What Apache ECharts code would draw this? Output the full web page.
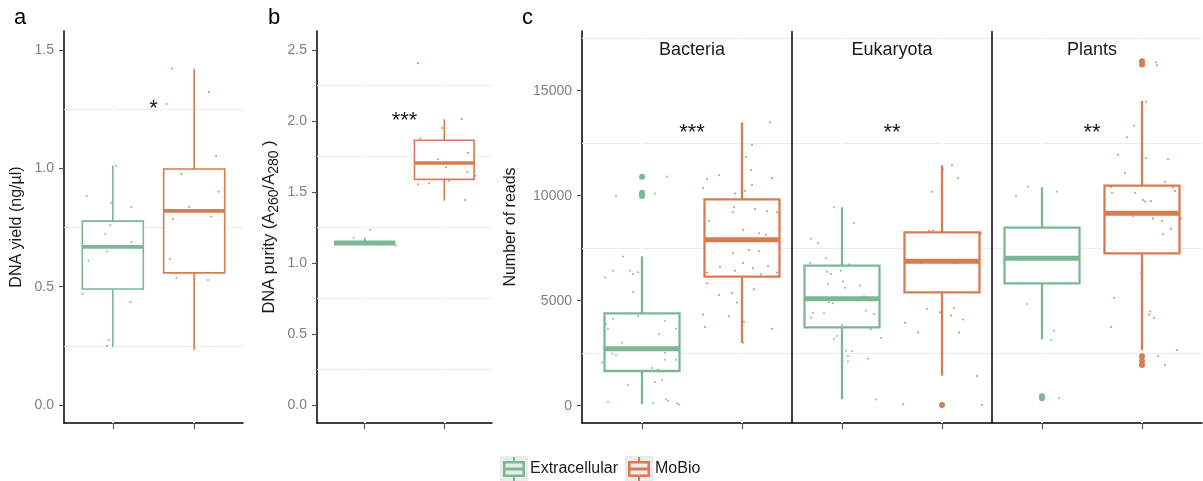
<!DOCTYPE html>
<html>
<head>
<meta charset="utf-8">
<script src="https://cdn.jsdelivr.net/npm/echarts@6/dist/echarts.min.js"></script>
<style>
  html, body { margin: 0; padding: 0; background: #fff; }
  #chart { width: 1203px; height: 481px; }
</style>
</head>
<body>
<div id="chart"></div>
<script>
// groups + colours
const groups = ['Extracellular', 'MoBio'];
const groupColors = ['#7bb795', '#d77b51'];

// a: DNA yield, box stats = [lowWhisker, q1, median, q3, highWhisker]
const yieldTicks = [0, 0.5, 1, 1.5];
const yieldStats = [
  [0.245, 0.49, 0.668, 0.777, 1.012],
  [0.232, 0.558, 0.82, 0.997, 1.42]
];
// jitter points: [x offset, value]
const yieldPtsExtra = [[-0.32, 0.883], [-0.02, 0.854], [0.23, 0.836], [0.04, 1.01], [-0.03, 0.76], [-0.09, 0.722],
  [0.23, 0.689], [-0.07, 0.648], [-0.3, 0.61], [-0.37, 0.47], [0.22, 0.435], [-0.05, 0.275], [-0.07, 0.25]];
const yieldPtsMoBio = [[-0.27, 1.422], [-0.34, 1.272], [0.18, 1.322], [0.27, 1.052], [-0.16, 0.976], [0.3, 0.901],
  [-0.06, 0.837], [-0.26, 0.786], [0.21, 0.796], [-0.3, 0.617], [-0.22, 0.537], [0.17, 0.528]];
const yieldSignif = ['*'];
const yieldSignifAt = [1.25];

// b: DNA purity
const purityTicks = [0, 0.5, 1, 1.5, 2, 2.5];
const purityStats = [
  [1.122, 1.128, 1.141, 1.153, 1.175],
  [1.439, 1.589, 1.704, 1.864, 2.012]
];
const purityPtsExtra = [[0.07, 1.232], [-0.14, 1.178], [0, 1.171], [-0.28, 1.143], [-0.11, 1.138], [0.1, 1.135],
  [0.22, 1.131], [0.31, 1.14], [0.39, 1.124], [-0.36, 1.134]];
const purityPtsMoBio = [[-0.33, 2.406], [0.22, 2.014], [-0.03, 1.951], [-0.3, 1.876], [0.3, 1.777], [-0.08, 1.73],
  [0.02, 1.674], [0.29, 1.641], [0.39, 1.615], [0.01, 1.589], [0.06, 1.58], [-0.19, 1.563], [-0.33, 1.554], [0.26, 1.444]];
const puritySignif = ['***'];
const puritySignifAt = [2.0];

// c: number of reads per taxon
const taxa = ['Bacteria', 'Eukaryota', 'Plants'];
const readTicks = [0, 5000, 10000, 15000];
const readStatsExtra = [
  [70, 1652, 2714, 4400, 7114],
  [305, 3733, 5095, 6667, 9448],
  [3162, 5829, 7019, 8476, 10400]
];
const readStatsMoBio = [
  [3000, 6143, 7905, 9829, 13495],
  [1429, 5400, 6876, 8257, 11448],
  [2652, 7257, 9162, 10476, 14510]
];
// outliers: [taxon index, value]
const readOutExtra = [[0, 10900], [0, 10140], [0, 9990], [2, 450], [2, 350]];
const readOutMoBio = [[1, 35], [2, 16400], [2, 16250], [2, 2370], [2, 2140], [2, 1940]];
const bacPtsExtra = [[-0.26, 9990], [0.13, 10110], [0.25, 10910], [-0.19, 7110], [-0.37, 6100], [-0.29, 6430], [-0.12, 6430],
  [-0.09, 6270], [-0.04, 6350], [-0.09, 5410], [-0.29, 4140], [-0.36, 3890], [-0.34, 3670], [-0.04, 4270], [0.23, 4050],
  [0.17, 3400], [0.34, 3670], [-0.2, 3000], [0.34, 2810], [-0.3, 2480], [-0.26, 2400], [0.23, 2520], [0.23, 2190],
  [0.34, 2190], [-0.4, 2060], [0.1, 1800], [0.16, 1720], [-0.14, 990], [0.13, 1130], [0.2, 1210], [-0.34, 190],
  [0.11, 130], [0.24, 300], [0.26, 220], [0.35, 110], [0.37, 50]];
const bacPtsMoBio = [[0.28, 13490], [0.1, 12410], [0.04, 11860], [-0.23, 10970], [-0.35, 10800], [0.3, 10840], [0.09, 11220],
  [0.1, 10510], [-0.39, 10370], [-0.07, 10110], [0.03, 10240], [0.11, 9830], [0.24, 9830], [-0.08, 9450], [0.13, 9380],
  [0.25, 9260], [0.35, 9210], [-0.09, 9210], [-0.33, 8810], [0.01, 8380], [0.17, 8210], [0.24, 8140], [0.07, 7410],
  [0.17, 7350], [-0.09, 7260], [0.01, 6800], [-0.22, 6620], [0.11, 6540], [0.26, 6640], [-0.07, 6430], [-0.35, 6340],
  [0.35, 6340], [0.19, 6260], [-0.35, 5830], [0.12, 5540], [-0.23, 5270], [-0.1, 5350], [-0.05, 4910], [-0.39, 4340],
  [-0.13, 4260], [0.02, 4000], [-0.37, 3750], [0.3, 3670], [0.01, 3000]];
const eukPtsExtra = [[-0.08, 9450], [0.12, 8700], [-0.31, 7950], [-0.24, 7750], [-0.16, 7020], [0, 6970], [-0.32, 6800],
  [0.07, 6730], [-0.01, 6430], [-0.15, 6380], [-0.11, 6270], [0.01, 5910], [-0.14, 5810], [0.18, 5720], [0.03, 5620],
  [0.22, 5210], [-0.13, 4910], [-0.09, 4880], [-0.29, 4430], [-0.18, 4400], [0.24, 4530], [0.32, 4370], [-0.31, 4190],
  [0.29, 3640], [0, 3840], [-0.05, 3320], [-0.08, 3180], [0.39, 3220], [0.04, 2620], [0.1, 2590], [0.06, 2370],
  [0.06, 2110], [0.26, 2240], [0.34, 300]];
const eukPtsMoBio = [[0.1, 11450], [0.01, 11260], [0.16, 10840], [-0.1, 10190], [-0.09, 8340], [-0.13, 8320], [0.39, 8210],
  [-0.21, 6780], [0.11, 6810], [0.14, 6780], [0.37, 6780], [0.12, 4670], [-0.15, 4610], [-0.02, 4450], [0.09, 4290],
  [0.21, 4110], [-0.37, 3950], [-0.24, 3490], [0.17, 3480], [0.35, 1410], [-0.39, 65], [0.4, 35]];
const plaPtsExtra = [[-0.14, 10430], [0.15, 10190], [-0.26, 9990], [-0.15, 4840], [0.12, 3570], [0.09, 3130], [0.17, 350],
  [-0.2, 5830], [0.1, 5830], [0.23, 5830]];
const plaPtsMoBio = [[0.14, 16340], [0.15, 16210], [0.04, 14480], [-0.08, 13340], [-0.15, 12780], [-0.24, 11950],
  [0.04, 11780], [0.26, 11730], [-0.17, 11080], [0.23, 10670], [-0.31, 10430], [0.31, 10400], [-0.3, 10140],
  [-0.07, 10140], [0.33, 10220], [0.01, 9800], [0.09, 9750], [0.03, 9720], [-0.09, 9030], [0.11, 8910], [0.2, 8800],
  [0.39, 8910], [0.29, 8430], [0.21, 8160], [-0.01, 6340], [-0.28, 5140], [0.08, 4490], [0.07, 4340], [0.12, 4190],
  [-0.31, 3750], [0.35, 2650], [0.16, 2370], [0.23, 1940]];
const readSignif = ['***', '**', '**'];
const readSignifAt = [13000, 13000, 13000];
const taxonLabelAt = 16940;

const FONT = "'Liberation Sans', Arial, sans-serif";
const BOX_W = 0.75;
const GLYPH = 'path://M0,4H22V20H0Z M2.5,6.5V17.5H19.5V6.5Z M2.5,10.5H19.5V13.5H2.5Z M10,0H12V4H10Z M10,20H12V24H10Z';

const chart = echarts.init(document.getElementById('chart'));

// ggplot-like box: whiskers, white box, thick median
function boxRenderer(lineW, medW) {
  return function (params, api) {
    const x = api.value(0);
    const color = groupColors[api.value(6)];
    const half = api.size([BOX_W, 0])[0] / 2;
    const p = i => api.coord([x, api.value(i)]);
    const lo = p(1), q1 = p(2), md = p(3), q3 = p(4), hi = p(5);
    const cx = lo[0];
    return {
      type: 'group',
      children: [
        { type: 'line', shape: { x1: cx, y1: hi[1], x2: cx, y2: q3[1] }, style: { stroke: color, lineWidth: lineW } },
        { type: 'line', shape: { x1: cx, y1: q1[1], x2: cx, y2: lo[1] }, style: { stroke: color, lineWidth: lineW } },
        { type: 'rect', shape: { x: cx - half, y: q3[1], width: 2 * half, height: q1[1] - q3[1] },
          style: { fill: '#fff', stroke: color, lineWidth: lineW } },
        { type: 'line', shape: { x1: cx - half, y1: md[1], x2: cx + half, y2: md[1] }, style: { stroke: color, lineWidth: medW } }
      ]
    };
  };
}

function marks(yVals, xVals, seps) {
  const d = [];
  yVals.forEach(v => d.push({ yAxis: v, lineStyle: { color: '#ebebeb', width: 1, type: 'solid' } }));
  xVals.forEach(v => d.push({ xAxis: v, lineStyle: { color: '#fff', width: 2, type: 'solid' } }));
  seps.forEach(v => d.push({ xAxis: v, lineStyle: { color: '#000', width: 1.5, type: 'solid' } }));
  return { silent: true, symbol: ['none', 'none'], z: 1, label: { show: false }, data: d };
}

function boxSeries(idx, g, rows, lineW, medW, markLine) {
  const s = {
    type: 'custom', name: groups[g], xAxisIndex: idx, yAxisIndex: idx, z: 2, silent: true,
    itemStyle: { color: groupColors[g] },
    encode: { x: 0, y: [1, 2, 3, 4, 5] },
    data: rows,
    renderItem: boxRenderer(lineW, medW)
  };
  if (markLine) s.markLine = markLine;
  return s;
}

function pointSeries(idx, g, data, size, opacity) {
  return {
    type: 'scatter', name: groups[g], xAxisIndex: idx, yAxisIndex: idx, z: 3, silent: true,
    symbolSize: size, itemStyle: { color: groupColors[g], opacity: opacity },
    data: data
  };
}

function textSeries(idx, points, texts, fontSize) {
  return {
    type: 'custom', xAxisIndex: idx, yAxisIndex: idx, z: 5, silent: true,
    data: points,
    renderItem: (params, api) => {
      const pt = api.coord([api.value(0), api.value(1)]);
      return { type: 'text', x: pt[0], y: pt[1],
        style: { text: texts[params.dataIndex], fontSize: fontSize, fontFamily: FONT, fill: '#1a1a1a', align: 'center', verticalAlign: 'middle' } };
    }
  };
}

const jit = (pos, pts) => pts.map(([dx, v]) => [pos + dx, v]);

function xAxisFor(idx, max, positions) {
  return {
    gridIndex: idx, type: 'value', min: 0.4, max: max,
    axisLine: { onZero: false, lineStyle: { color: '#000', width: 1.5 } },
    axisTick: { length: 6, lineStyle: { color: '#555', width: 1.2 }, customValues: positions },
    axisLabel: { show: false },
    splitLine: { show: false }
  };
}

function yAxisFor(idx, min, max, ticks, fmt, name, gap, fontSize, rich) {
  return {
    gridIndex: idx, type: 'value', min: min, max: max,
    name: name, nameLocation: 'middle', nameGap: gap,
    nameTextStyle: { fontSize: fontSize, color: '#1a1a1a', fontFamily: FONT, lineHeight: 24, rich: rich || {} },
    axisLine: { onZero: false, lineStyle: { color: '#000', width: 1.5 } },
    axisTick: { length: 5, lineStyle: { color: '#555', width: 1.2 }, customValues: ticks },
    axisLabel: { color: '#7f7f7f', fontSize: 14, fontFamily: FONT, margin: 10, customValues: ticks, formatter: fmt },
    splitLine: { show: false }
  };
}

const series = [];
// panel a
series.push(boxSeries(0, 0, [[1, ...yieldStats[0], 0]], 1.6, 3.6, marks([0.25, 0.75, 1.25], [1, 2], [])));
series.push(boxSeries(0, 1, [[2, ...yieldStats[1], 1]], 1.6, 3.6));
series.push(pointSeries(0, 0, jit(1, yieldPtsExtra), 2, 0.9));
series.push(pointSeries(0, 1, jit(2, yieldPtsMoBio), 2, 0.9));
series.push(textSeries(0, yieldSignifAt.map(v => [1.5, v]), yieldSignif, 22));
// panel b
series.push(boxSeries(1, 0, [[1, ...purityStats[0], 0]], 1.6, 3.6, marks([0.25, 0.75, 1.25, 1.75, 2.25], [1, 2], [])));
series.push(boxSeries(1, 1, [[2, ...purityStats[1], 1]], 1.6, 3.6));
series.push(pointSeries(1, 0, jit(1, purityPtsExtra), 2, 0.9));
series.push(pointSeries(1, 1, jit(2, purityPtsMoBio), 2, 0.9));
series.push(textSeries(1, puritySignifAt.map(v => [1.5, v]), puritySignif, 22));
// panel c
series.push(boxSeries(2, 0, readStatsExtra.map((s, i) => [2 * i + 1, ...s, 0]), 2.3, 5,
  marks([2500, 7500, 12500, 17500], [1, 2, 3, 4, 5, 6], [2.5, 4.5])));
series.push(boxSeries(2, 1, readStatsMoBio.map((s, i) => [2 * i + 2, ...s, 1]), 2.3, 5));
series.push(pointSeries(2, 0, readOutExtra.map(([t, v]) => [2 * t + 1, v]), 6, 1));
series.push(pointSeries(2, 1, readOutMoBio.map(([t, v]) => [2 * t + 2, v]), 6, 1));
series.push(pointSeries(2, 0, [].concat(jit(1, bacPtsExtra), jit(3, eukPtsExtra), jit(5, plaPtsExtra)), 2, 0.9));
series.push(pointSeries(2, 1, [].concat(jit(2, bacPtsMoBio), jit(4, eukPtsMoBio), jit(6, plaPtsMoBio)), 2, 0.9));
series.push(textSeries(2, readSignifAt.map((v, i) => [2 * i + 1.5, v]), readSignif, 22));
series.push(textSeries(2, taxa.map((t, i) => [2 * i + 1.5, taxonLabelAt]), taxa, 18));

const fix1 = v => v.toFixed(1);

chart.setOption({
  animation: false,
  textStyle: { fontFamily: FONT },
  grid: [
    { left: 64, top: 31, width: 179, height: 392 },
    { left: 317, top: 31, width: 175, height: 392 },
    { left: 582, top: 31, width: 620, height: 392 }
  ],
  xAxis: [
    xAxisFor(0, 2.6, [1, 2]),
    xAxisFor(1, 2.6, [1, 2]),
    xAxisFor(2, 6.6, [1, 2, 3, 4, 5, 6])
  ],
  yAxis: [
    yAxisFor(0, -0.076, 1.58, yieldTicks, fix1, 'DNA yield (ng/µl)', 35, 16),
    yAxisFor(1, -0.127, 2.634, purityTicks, fix1, 'DNA purity (A{sub|260}/A{sub|280} )', 36, 16.5,
      { sub: { fontSize: 14, fontFamily: FONT, color: '#1a1a1a', verticalAlign: 'bottom', lineHeight: 16 } }),
    yAxisFor(2, -824, 17843, readTicks, v => String(v), 'Number of reads', 56, 16)
  ],
  legend: {
    data: groups, left: 503, top: 457, padding: 0, itemWidth: 22, itemHeight: 24, itemGap: 10,
    icon: GLYPH, selectedMode: false,
    textStyle: { fontSize: 16, color: '#1a1a1a', fontFamily: FONT }
  },
  graphic: [
    { type: 'text', x: 14, y: 18, style: { text: 'a', fontSize: 22, fontFamily: FONT, fill: '#000', verticalAlign: 'middle' } },
    { type: 'text', x: 268, y: 18, style: { text: 'b', fontSize: 22, fontFamily: FONT, fill: '#000', verticalAlign: 'middle' } },
    { type: 'text', x: 522, y: 18, style: { text: 'c', fontSize: 22, fontFamily: FONT, fill: '#000', verticalAlign: 'middle' } },
    { type: 'rect', z: 0, shape: { x: 500, y: 456, width: 28, height: 25 }, style: { fill: '#ebebeb' } },
    { type: 'rect', z: 0, shape: { x: 625, y: 456, width: 28, height: 25 }, style: { fill: '#ebebeb' } }
  ],
  series: series
});
</script>
</body>
</html>
